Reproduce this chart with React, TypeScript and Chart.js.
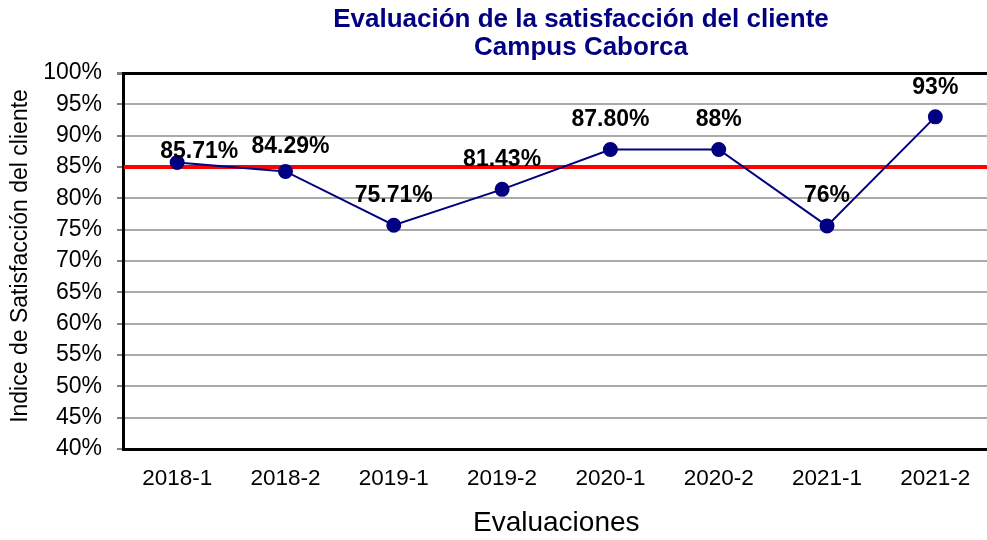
import React, { useEffect, useRef } from "react";
import { Chart, registerables } from "chart.js";

Chart.register(...registerables);

const titleLines = ["Evaluación de la satisfacción del cliente", "Campus Caborca"];
const categories = ["2018-1", "2018-2", "2019-1", "2019-2", "2020-1", "2020-2", "2021-1", "2021-2"];
const satisfaction = [85.71, 84.29, 75.71, 81.43, 87.8, 87.8, 75.6, 93];
const valueLabels = ["85.71%", "84.29%", "75.71%", "81.43%", "87.80%", "88%", "76%", "93%"];
const threshold = 85;
const yMin = 40;
const yMax = 100;
const yStep = 5;
const xTitle = "Evaluaciones";
const yTitle = "Indice de Satisfacción del cliente";

// label placement offsets (style only)
const labelDx = [22, 5, 0, 0, 0, 0, 0, 0];
const labelDy = [11, 25, 30, 30, 30, 30, 30, 29];

const FONT = "'Liberation Sans', Arial, sans-serif";
const NAVY = "#000080";

export default function App() {
  const ref = useRef<HTMLCanvasElement | null>(null);

  useEffect(() => {
    if (!ref.current) return;

    const thresholdPlugin = {
      id: "thresholdLine",
      beforeDatasetsDraw(chart: any) {
        const { ctx, chartArea, scales } = chart;
        const y = scales.y.getPixelForValue(threshold);
        ctx.save();
        ctx.strokeStyle = "#ff0000";
        ctx.lineWidth = 4;
        ctx.beginPath();
        ctx.moveTo(chartArea.left + 1, y);
        ctx.lineTo(chartArea.right, y);
        ctx.stroke();
        ctx.restore();
      },
    };

    const labelPlugin = {
      id: "valueLabels",
      afterDatasetsDraw(chart: any) {
        const { ctx } = chart;
        const meta = chart.getDatasetMeta(0);
        ctx.save();
        ctx.font = `bold 23px ${FONT}`;
        ctx.fillStyle = "#000000";
        ctx.textAlign = "center";
        ctx.textBaseline = "middle";
        meta.data.forEach((pt: any, i: number) => {
          ctx.fillText(valueLabels[i], pt.x + labelDx[i], pt.y - labelDy[i]);
        });
        ctx.restore();
      },
    };

    const titlePlugin = {
      id: "customTitle",
      afterDraw(chart: any) {
        const { ctx } = chart;
        ctx.save();
        ctx.font = `bold 26px ${FONT}`;
        ctx.fillStyle = NAVY;
        ctx.textAlign = "center";
        ctx.textBaseline = "middle";
        ctx.fillText(titleLines[0], 581, 20);
        ctx.fillText(titleLines[1], 581, 48);
        // y-axis title
        ctx.translate(21, 256);
        ctx.rotate(-Math.PI / 2);
        ctx.font = `23px ${FONT}`;
        ctx.fillStyle = "#000000";
        ctx.fillText(yTitle, 0, 0);
        ctx.restore();
      },
    };

    const chart = new Chart(ref.current, {
      type: "line",
      data: {
        labels: categories,
        datasets: [
          {
            data: satisfaction,
            borderColor: NAVY,
            backgroundColor: NAVY,
            borderWidth: 2,
            pointRadius: 6.5,
            pointBackgroundColor: NAVY,
            pointBorderColor: NAVY,
            tension: 0,
            fill: false,
          },
        ],
      },
      options: {
        responsive: false,
        animation: false,
        events: [],
        layout: { padding: { top: 73, left: 0, right: 0, bottom: 0 } },
        plugins: {
          legend: { display: false },
          tooltip: { enabled: false },
          title: { display: false },
        },
        scales: {
          x: {
            type: "category",
            offset: true,
            afterFit(scale: any) {
              scale.height = 91;
            },
            grid: { display: false, drawTicks: false },
            border: { display: true, color: "#000000", width: 3 },
            ticks: {
              color: "#000000",
              font: { family: FONT, size: 22.5 },
              padding: 16,
              maxRotation: 0,
            },
            title: {
              display: true,
              text: xTitle,
              color: "#000000",
              font: { family: FONT, size: 28 },
              padding: { top: 15, bottom: 0 },
            },
          },
          y: {
            min: yMin,
            max: yMax,
            afterFit(scale: any) {
              scale.width = 123;
            },
            grid: {
              color: (c: any) => (c.tick && c.tick.value === yMax ? "#000000" : "#aaaaaa"),
              lineWidth: (c: any) => (c.tick && c.tick.value === yMax ? 3 : 2),
              tickColor: "#808080",
              tickLength: 6,
            },
            border: { display: true, color: "#000000", width: 3 },
            ticks: {
              stepSize: yStep,
              color: "#000000",
              font: { family: FONT, size: 23 },
              padding: 15,
              callback: (v: any) => `${v}%`,
            },
            title: { display: false },
          },
        },
      },
      plugins: [thresholdPlugin, labelPlugin, titlePlugin],
    });

    return () => chart.destroy();
  }, []);

  return (
    <div
      style={{
        position: "fixed",
        left: 0,
        top: 0,
        width: 987,
        height: 540,
        overflow: "hidden",
        background: "#ffffff",
      }}
    >
      <canvas ref={ref} width={998} height={540} style={{ display: "block" }} />
    </div>
  );
}
